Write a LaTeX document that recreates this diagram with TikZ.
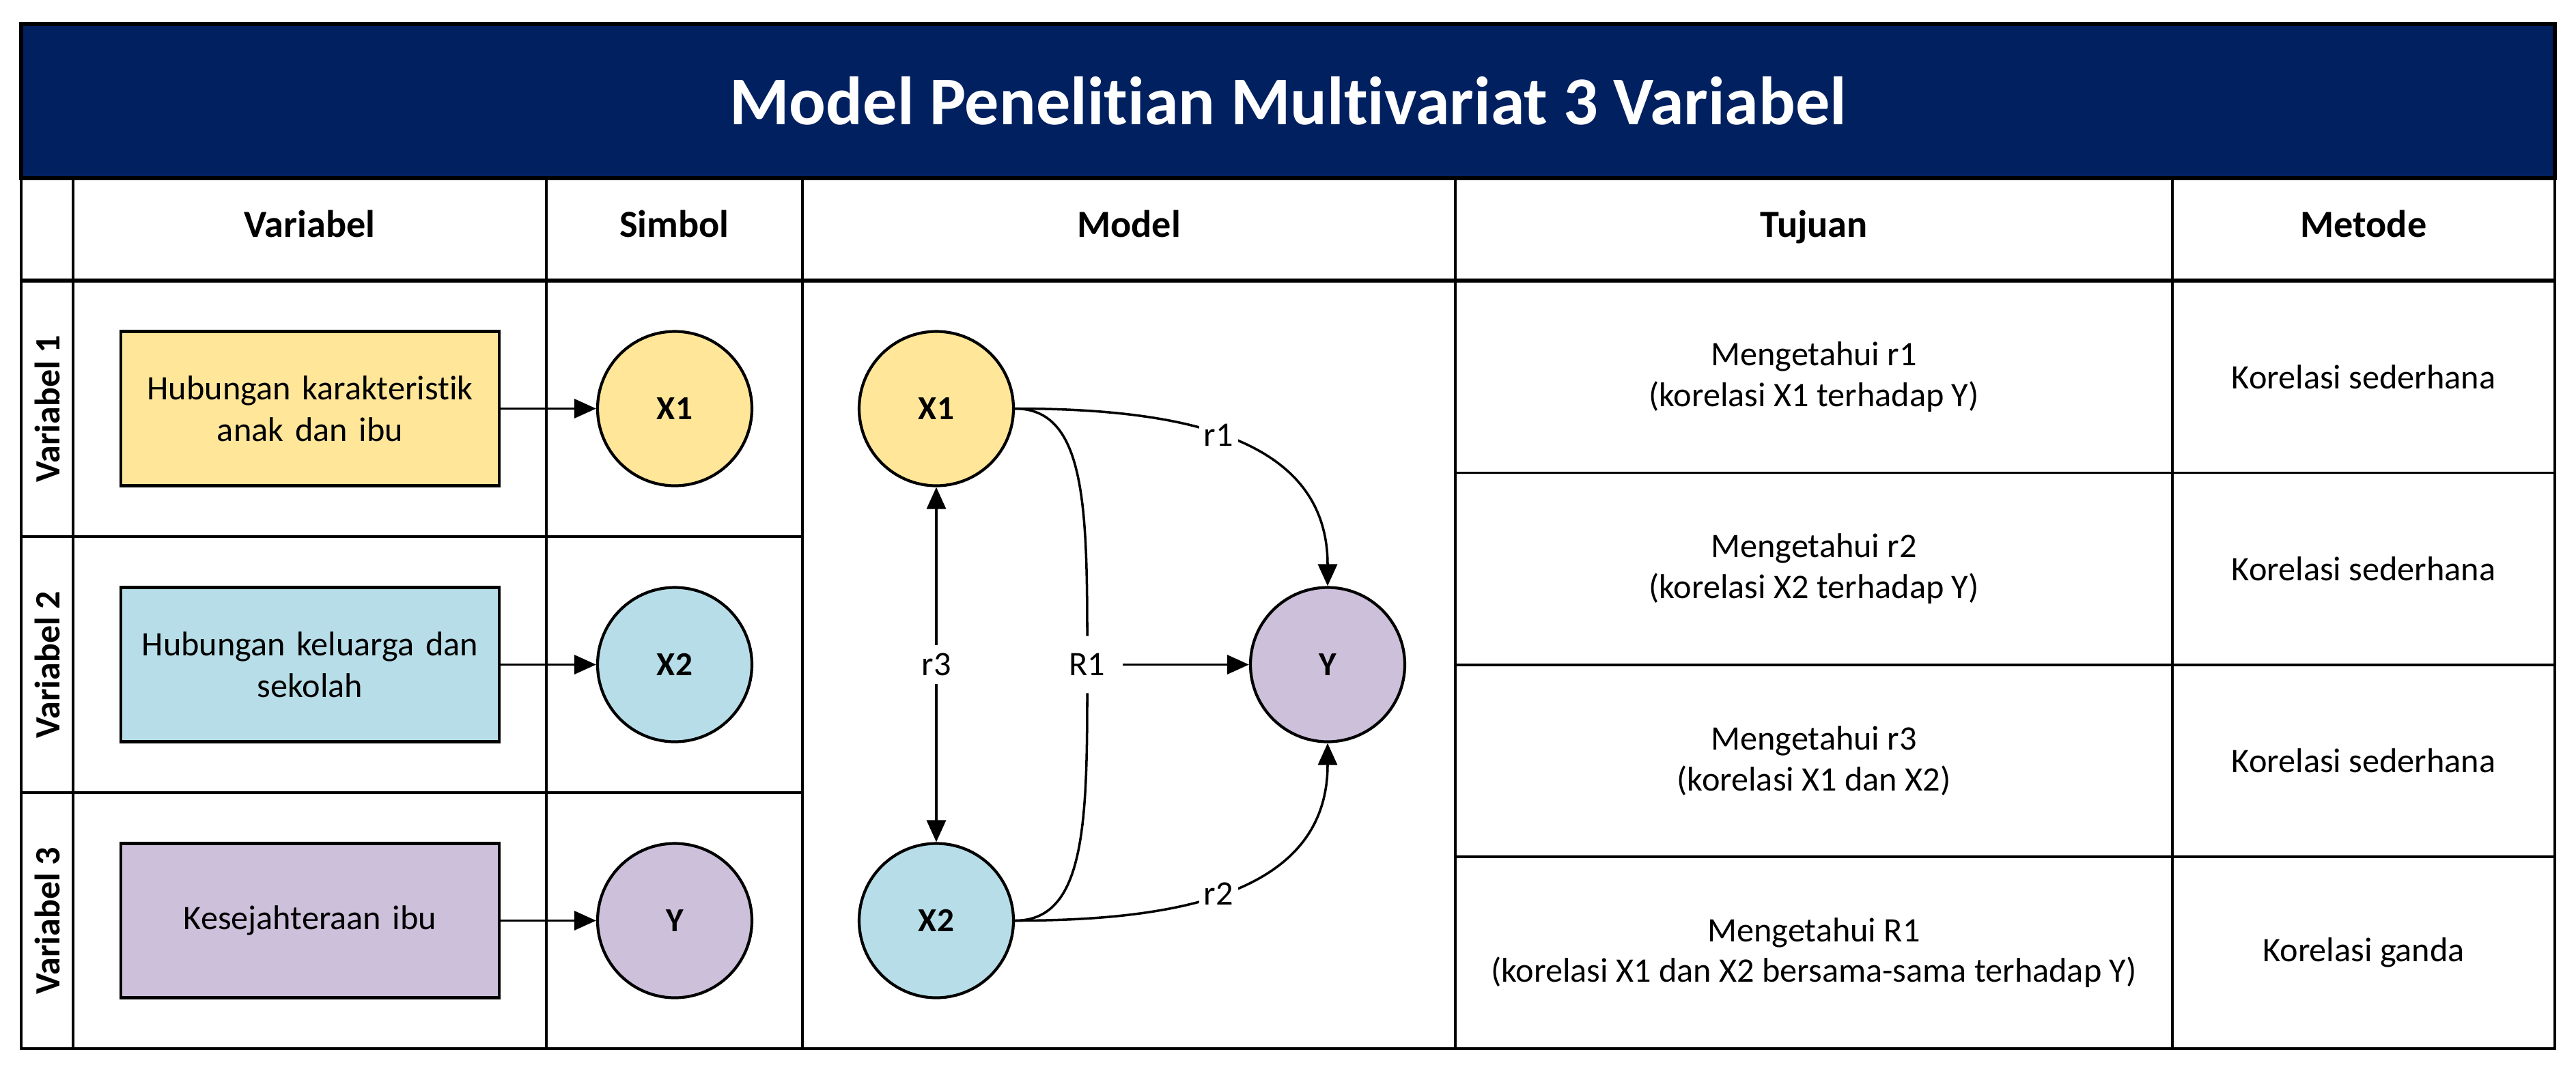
\documentclass[tikz,border=0pt]{standalone}
\usepackage{fontspec}
\setmainfont{Carlito}[Ligatures=CommonOff]
\usepackage{tikz}
\usetikzlibrary{arrows.meta, positioning, shapes.geometric}
\definecolor{hdrnavy}{RGB}{0,32,96}
\definecolor{myyellow}{RGB}{255,230,153}
\definecolor{myblue}{RGB}{183,222,232}
\definecolor{mylilac}{RGB}{204,192,218}
\tikzset{
  varbox/.style={rectangle, draw=black, line width=1.2pt,
    minimum width=5.46cm, minimum height=2.26cm, text width=5.3cm,
    align=center, font=\fontsize{14.3}{17.3}\selectfont},
  symcirc/.style={circle, draw=black, line width=1.2pt,
    minimum size=2.26cm, font=\fontsize{14}{17}\selectfont\bfseries},
  colhead/.style={font=\fontsize{16}{19}\selectfont\bfseries,
    text height=2ex, text depth=0.6ex},
  rowhead/.style={rotate=90, font=\fontsize{14.8}{18}\selectfont\bfseries},
  celltext/.style={align=center, font=\fontsize{14.3}{17}\selectfont},
  edgelbl/.style={fill=white, inner sep=2pt, font=\fontsize{14.3}{17}\selectfont},
  arrow/.style={-{Triangle[length=0.32cm,width=0.28cm]}, line width=1pt},
  dblarrow/.style={{Triangle[length=0.32cm,width=0.28cm]}-{Triangle[length=0.32cm,width=0.28cm]}, line width=1pt},
  line/.style={line width=1pt},
  tabline/.style={line width=1pt}
}

\begin{document}
\begin{tikzpicture}[x=1cm, y=-1cm]
  \useasboundingbox (0,0) rectangle (37.72,15.81);

  % title bar
  \draw[fill=hdrnavy, line width=1.5pt] (0.31,0.35) rectangle (37.41,2.61);
  \node[font=\fontsize{28.5}{34}\selectfont\bfseries, text=white] (title) at (18.86,1.48) {Model Penelitian Multivariat 3 Variabel};

  % table grid
  \draw[tabline] (0.31,2.61) rectangle (37.41,15.36);
  \foreach \x in {1.07,8.00,11.75,21.31,31.81}
    \draw[tabline] (\x,2.61) -- (\x,15.36);
  \draw[line width=1.5pt] (0.31,4.11) -- (37.41,4.11);
  \foreach \y in {7.86,11.61}
    \draw[tabline] (0.31,\y) -- (11.75,\y);
  \foreach \y in {6.925,9.74,12.55}
    \draw[tabline] (21.31,\y) -- (37.41,\y);

  % column heads
  \node[colhead] (hvar) at (4.535,3.36) {Variabel};
  \node[colhead] (hsim) at (9.875,3.36) {Simbol};
  \node[colhead] (hmod) at (16.53,3.36) {Model};
  \node[colhead] (htuj) at (26.56,3.36) {Tujuan};
  \node[colhead] (hmet) at (34.61,3.36) {Metode};

  % row heads
  \node[rowhead] (rv1) at (0.69,5.985) {Variabel 1};
  \node[rowhead] (rv2) at (0.69,9.735) {Variabel 2};
  \node[rowhead] (rv3) at (0.69,13.485) {Variabel 3};

  % variables and symbols
  \node[varbox, fill=myyellow] (var1) at (4.54,5.985) {Hubungan karakteristik\\anak dan ibu};
  \node[varbox, fill=myblue] (var2) at (4.54,9.735) {Hubungan keluarga dan\\sekolah};
  \node[varbox, fill=mylilac] (var3) at (4.54,13.485) {Kesejahteraan ibu};

  \node[symcirc, fill=myyellow] (sx1) at (9.88,5.985) {X1};
  \node[symcirc, fill=myblue] (sx2) at (9.88,9.735) {X2};
  \node[symcirc, fill=mylilac] (sy) at (9.88,13.485) {Y};

  \draw[arrow] (var1) -- (sx1);
  \draw[arrow] (var2) -- (sx2);
  \draw[arrow] (var3) -- (sy);

  % model
  \node[symcirc, fill=myyellow] (mx1) at (13.71,5.985) {X1};
  \node[symcirc, fill=myblue] (mx2) at (13.71,13.485) {X2};
  \node[symcirc, fill=mylilac] (my) at (19.44,9.735) {Y};
  \node[font=\fontsize{14.3}{17}\selectfont, inner sep=0.25cm] (rbig) at (15.92,9.735) {R1};

  \draw[arrow] (mx1.east) .. controls +(2.4,0) and +(0,-2.2) .. node[edgelbl, pos=0.46] {r1} (my.north);
  \draw[arrow] (mx2.east) .. controls +(2.4,0) and +(0,2.2) .. node[edgelbl, pos=0.46] {r2} (my.south);
  \draw[dblarrow] (mx1) -- node[edgelbl, inner sep=0.12cm] {r3} (mx2);
  \draw[line] (mx1.east) .. controls +(1.0,0) and +(0,-2.0) .. (rbig.north);
  \draw[line] (mx2.east) .. controls +(1.0,0) and +(0,2.0) .. (rbig.south);
  \draw[arrow] (rbig) -- (my);

  % tujuan
  \node[celltext] (t1) at (26.56,5.5175) {Mengetahui r1\\(korelasi X1 terhadap Y)};
  \node[celltext] (t2) at (26.56,8.3325) {Mengetahui r2\\(korelasi X2 terhadap Y)};
  \node[celltext] (t3) at (26.56,11.145) {Mengetahui r3\\(korelasi X1 dan X2)};
  \node[celltext] (t4) at (26.56,13.955) {Mengetahui R1\\(korelasi X1 dan X2 bersama-sama terhadap Y)};

  % metode
  \node[celltext] (m1) at (34.61,5.5175) {Korelasi sederhana};
  \node[celltext] (m2) at (34.61,8.3325) {Korelasi sederhana};
  \node[celltext] (m3) at (34.61,11.145) {Korelasi sederhana};
  \node[celltext] (m4) at (34.61,13.955) {Korelasi ganda};
\end{tikzpicture}
\end{document}
